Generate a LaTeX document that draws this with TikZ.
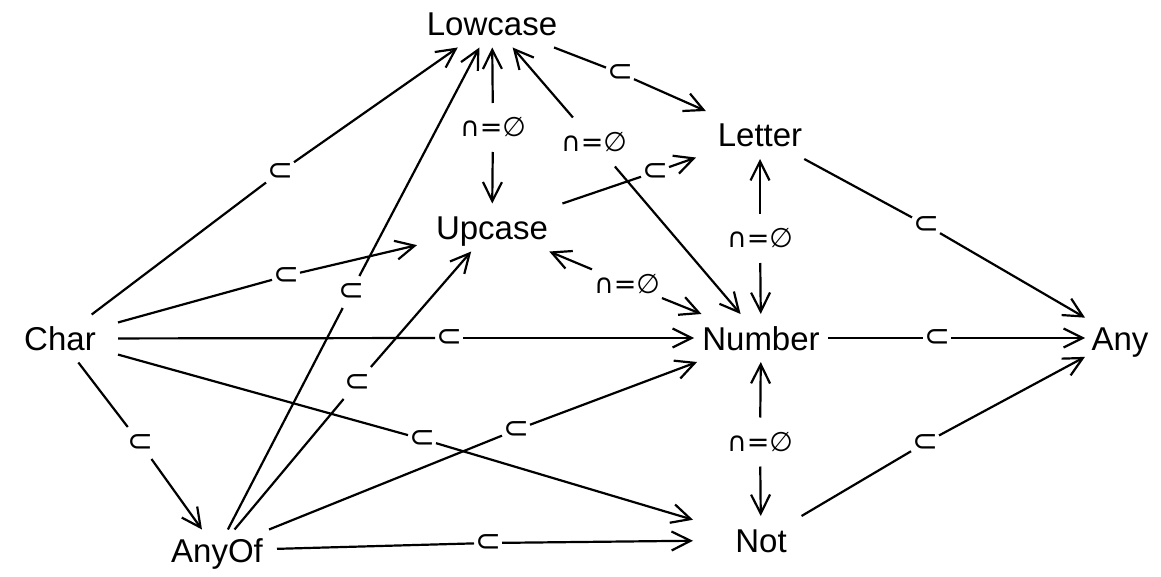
\documentclass[tikz,border=0pt]{standalone}
\usepackage{fontspec}
\setmainfont{Liberation Sans}
\newfontfamily\symfont{DejaVu Sans}
\usetikzlibrary{arrows.meta}
\begin{document}
\begin{tikzpicture}[x=1pt,y=-1pt,
  every node/.style={inner sep=0pt, outer sep=0pt},
  cls/.style={rectangle, minimum height=48pt, text height=24pt, text depth=0pt, font=\fontsize{33}{38}\selectfont},
  sub/.style={rectangle, minimum width=28pt, minimum height=32pt, font=\symfont\fontsize{31}{34}\selectfont},
  dis/.style={rectangle, minimum width=70pt, minimum height=49pt, font=\symfont\fontsize{27}{30}\selectfont},
  edge/.style={line width=2.2pt},
  arr/.style={line width=2.2pt, -{Straight Barb[length=19pt,width=19pt]}}
]
\useasboundingbox (0,0) rectangle (1161,577);
% classes
\node[cls, minimum width=150pt] (Lowcase) at (492,23.5) {Lowcase};
\node[cls, minimum width=128pt] (Letter) at (760,135) {Letter};
\node[cls, minimum width=150pt] (Upcase) at (492,227.5) {Upcase};
\node[cls, minimum width=116pt] (Char) at (60,338.5) {Char};
\node[cls, minimum width=134pt] (Number) at (761,338) {Number};
\node[cls, minimum width=70pt] (Any) at (1120,338) {Any};
\node[cls, minimum width=120pt, minimum height=42pt] (AnyOf) at (217,550.5) {AnyOf};
\node[cls, minimum width=136pt] (Not) at (761,540) {Not};
% subset labels
\node[sub] (L1) at (280,172) {⊂};
\node[sub] (L2) at (286,276) {⊂};
\node[sub] (L3) at (449,338) {⊂};
\node[sub] (L4) at (422,439) {⊂};
\node[sub] (L5) at (140,443) {⊂};
\node[sub] (L6) at (351,292) {⊂};
\node[sub] (L7) at (357,383) {⊂};
\node[sub] (L8) at (516,430) {⊂};
\node[sub] (L9) at (488,543) {⊂};
\node[sub] (L12) at (620,73) {⊂};
\node[sub] (L13) at (655,172) {⊂};
\node[sub] (L16) at (926,225) {⊂};
\node[sub] (L17) at (937,338) {⊂};
\node[sub] (L19) at (925,443) {⊂};
% disjoint labels
\node[dis] (L10) at (493,127.5) {∩=∅};
\node[dis] (L11) at (594,142) {∩=∅};
\node[dis] (L14) at (627,284) {∩=∅};
\node[dis] (L15) at (760,238.5) {∩=∅};
\node[dis] (L18) at (760,442) {∩=∅};
% subset edges
\draw[edge] (Char) -- (L1);  \draw[arr] (L1) -- (Lowcase);
\draw[edge] (Char) -- (L2);  \draw[arr] (L2) -- (Upcase);
\draw[edge] (Char) -- (L3);  \draw[arr] (L3) -- (Number);
\draw[edge] (Char) -- (L4);  \draw[arr] (L4) -- (Not);
\draw[edge] (Char) -- (L5);  \draw[arr] (L5) -- (AnyOf);
\draw[edge] (AnyOf) -- (L6); \draw[arr] (L6) -- (Lowcase);
\draw[edge] (AnyOf) -- (L7); \draw[arr] (L7) -- (Upcase);
\draw[edge] (AnyOf) -- (L8); \draw[arr] (L8) -- (Number);
\draw[edge] (AnyOf) -- (L9); \draw[arr] (L9) -- (Not);
\draw[edge] (Lowcase) -- (L12); \draw[arr] (L12) -- (Letter);
\draw[edge] (Upcase) -- (L13);  \draw[arr] (L13) -- (Letter);
\draw[edge] (Letter) -- (L16);  \draw[arr] (L16) -- (Any);
\draw[edge] (Number) -- (L17);  \draw[arr] (L17) -- (Any);
\draw[edge] (Not) -- (L19);     \draw[arr] (L19) -- (Any);
% disjoint edges
\draw[arr] (L10) -- (Lowcase); \draw[arr] (L10) -- (Upcase);
\draw[arr] (L11) -- (Lowcase); \draw[arr] (L11) -- (Number);
\draw[arr] (L14) -- (Upcase);  \draw[arr] (L14) -- (Number);
\draw[arr] (L15) -- (Letter);  \draw[arr] (L15) -- (Number);
\draw[arr] (L18) -- (Number);  \draw[arr] (L18) -- (Not);
\end{tikzpicture}
\end{document}
